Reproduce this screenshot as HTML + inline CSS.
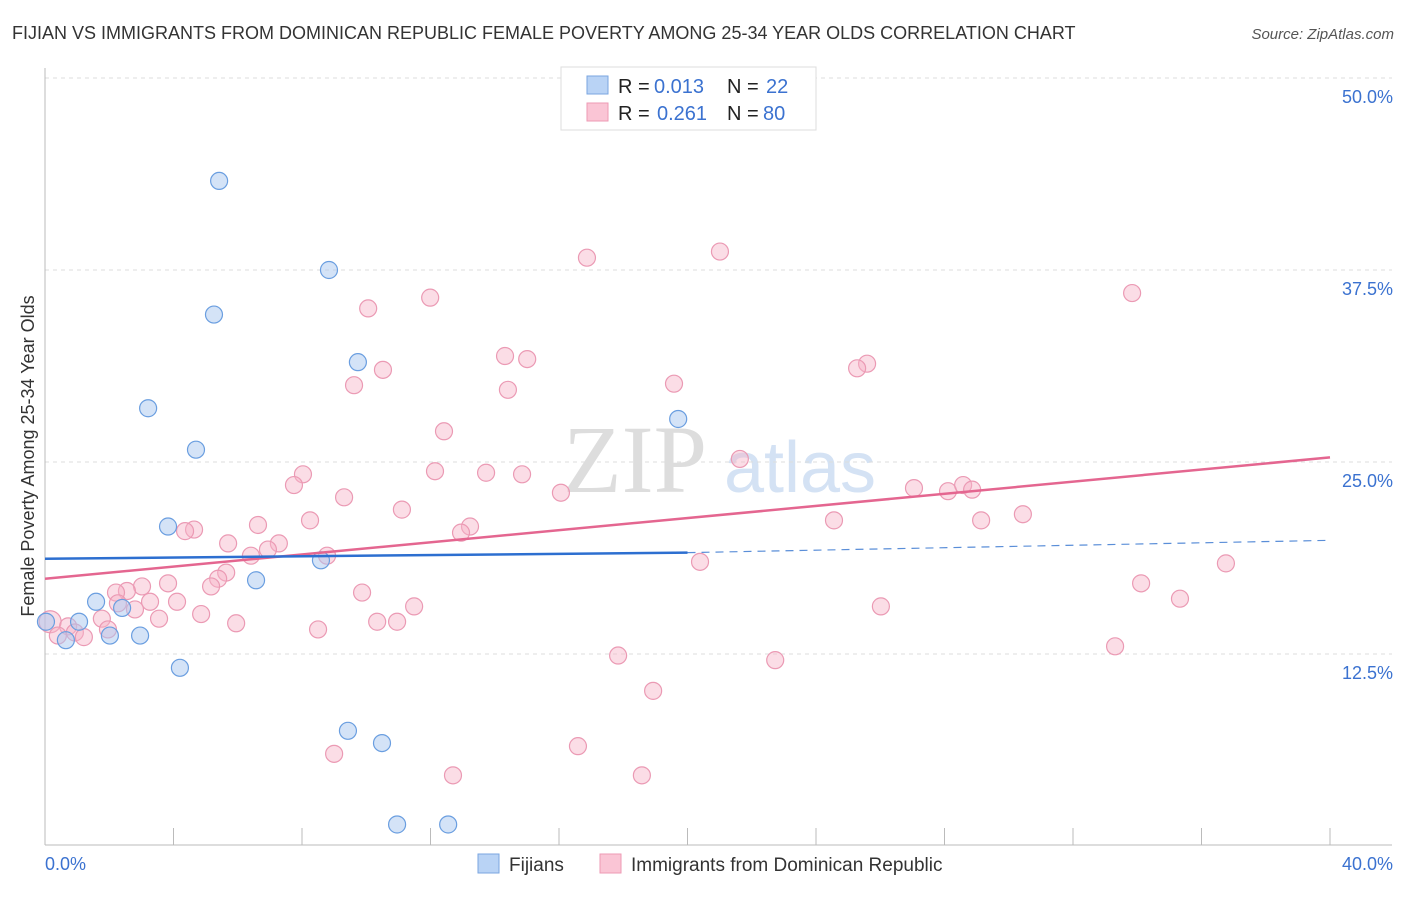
<!DOCTYPE html>
<html><head><meta charset="utf-8"><style>
body{margin:0;background:#fff;font-family:"Liberation Sans",sans-serif;}
</style></head><body>
<svg width="1406" height="892" xmlns="http://www.w3.org/2000/svg" id="svg">
<text x="12" y="39" font-size="18" fill="#333">FIJIAN VS IMMIGRANTS FROM DOMINICAN REPUBLIC FEMALE POVERTY AMONG 25-34 YEAR OLDS CORRELATION CHART</text>
<text x="1394" y="39" font-size="15" fill="#555" font-style="italic" text-anchor="end">Source: ZipAtlas.com</text>
<text x="635" y="492" font-size="96" fill="#ddd" font-family="Liberation Serif" text-anchor="middle">ZIP</text>
<text x="800" y="492" font-size="72" fill="#d4e2f4" text-anchor="middle">atlas</text>
<text transform="translate(34,456) rotate(-90)" font-size="18" fill="#333" text-anchor="middle">Female Poverty Among 25-34 Year Olds</text>
<g id="grid"></g><g id="pts"></g><g id="lines"></g>
<g>
<rect x="561" y="67" width="255" height="63" fill="#fff" stroke="#ddd"/>
<rect x="587" y="76" width="21" height="18" fill="#b9d3f5" stroke="#7aa6e0"/>
<rect x="587" y="103" width="21" height="18" fill="#fac5d5" stroke="#ee9ab4"/>
<text y="93" font-size="20" fill="#222"><tspan x="618">R =</tspan><tspan x="654" fill="#3b72d0">0.013</tspan><tspan x="727">N =</tspan><tspan x="766" fill="#3b72d0">22</tspan></text>
<text y="120" font-size="20" fill="#222"><tspan x="618">R =</tspan><tspan x="657" fill="#3b72d0">0.261</tspan><tspan x="727">N =</tspan><tspan x="763" fill="#3b72d0">80</tspan></text>
</g>
<g>
<rect x="478" y="854" width="21" height="19" fill="#b9d3f5" stroke="#7aa6e0"/>
<text x="509" y="871" font-size="19" fill="#333">Fijians</text>
<rect x="600" y="854" width="21" height="19" fill="#fac5d5" stroke="#ee9ab4"/>
<text x="631" y="871" font-size="19" fill="#333">Immigrants from Dominican Republic</text>
</g>
<text x="45" y="870" font-size="18" fill="#3b72d0">0.0%</text>
<text x="1393" y="870" font-size="18" fill="#3b72d0" text-anchor="end">40.0%</text>
</svg>
<script>
const yTicks=[50,37.5,25,12.5];
const xTicks=[0,4,8,12,16,20,24,28,32,36,40];
const blueX=[5.42,8.84,5.26,9.74,3.21,4.70,19.71,3.83,8.59,6.57,1.59,2.40,1.06,0.03,2.02,2.96,0.65,4.20,9.43,10.49,10.96,12.55];
const blueY=[43.3,37.5,34.6,31.5,28.5,25.8,27.8,20.8,18.6,17.3,15.9,15.5,14.6,14.6,13.7,13.7,13.4,11.6,7.5,6.7,1.4,1.4];
const pinkX=[21.01,16.87,33.84,11.99,10.06,14.32,15.01,25.59,25.28,10.52,19.58,9.62,14.41,12.42,21.63,8.03,12.14,13.73,14.85,7.75,16.06,27.05,28.11,28.58,28.86,9.31,11.11,30.44,8.25,24.56,29.14,6.63,4.64,4.36,13.23,12.95,5.70,7.28,6.94,6.41,8.78,20.39,36.76,5.64,5.39,3.83,34.12,3.02,5.17,2.55,2.21,9.87,35.33,3.27,4.11,2.27,11.49,26.02,2.80,4.86,1.77,3.55,10.34,10.96,5.95,0.16,0.72,1.96,0.93,8.50,0.40,1.21,33.31,17.84,22.73,18.93,9.00,16.59,12.70,18.58];
const pinkY=[38.7,38.3,36.0,35.7,35.0,31.9,31.7,31.4,31.1,31.0,30.1,30.0,29.7,27.0,25.2,24.2,24.4,24.3,24.2,23.5,23.0,23.3,23.1,23.5,23.2,22.7,21.9,21.6,21.2,21.2,21.2,20.9,20.6,20.5,20.8,20.4,19.7,19.7,19.3,18.9,18.9,18.5,18.4,17.8,17.4,17.1,17.1,16.9,16.9,16.6,16.5,16.5,16.1,15.9,15.9,15.8,15.6,15.6,15.4,15.1,14.8,14.8,14.6,14.6,14.5,14.6,14.3,14.1,13.9,14.1,13.7,13.6,13.0,12.4,12.1,10.1,6.0,6.5,4.6,4.6];
const blueLine=[18.7,19.1,19.9]; // at x=0, 20, 40
const pinkLine=[17.4,25.3]; // at x=0, 40
const X=v=>45+v/40*1285, Y=v=>846-v/12.5*192;
const NS="http://www.w3.org/2000/svg";
function mk(t,a,p){const e=document.createElementNS(NS,t);for(const k in a)e.setAttribute(k,a[k]);p.appendChild(e);return e;}
const grid=document.getElementById('grid');
yTicks.forEach(t=>{
 const l=mk('line',{x1:45,x2:1392,y1:Y(t),y2:Y(t),stroke:'#ddd','stroke-dasharray':'4,4'},grid);
 
 
 const s=mk('text',{x:1393,y:Y(t)+25,'font-size':18,fill:'#3b72d0','text-anchor':'end'},grid);
 s.textContent=t.toFixed(1)+'%';
 
 
});
mk('line',{x1:45,x2:45,y1:68,y2:845,stroke:'#bbb'},grid);
mk('line',{x1:45,x2:1392,y1:845,y2:845,stroke:'#bbb'},grid);
xTicks.forEach(t=>{
 const l=mk('line',{x1:X(t),x2:X(t),y1:828,y2:845,stroke:'#bbb'},grid);
 
 
});
const pts=document.getElementById('pts');
pinkX.forEach((x,i)=>{
 const c=mk('circle',{cx:X(x),cy:Y(pinkY[i]),r:(i===65?11:8.5),fill:'rgba(246,180,200,0.45)',stroke:'#eb9ab4','stroke-width':1.2},pts);
 
 
});
blueX.forEach((x,i)=>{
 const c=mk('circle',{cx:X(x),cy:Y(blueY[i]),r:8.5,fill:'rgba(170,200,240,0.5)',stroke:'#6a9ee0','stroke-width':1.2},pts);
 
 
});
const ln=document.getElementById('lines');
const pl=mk('line',{x1:X(0),y1:Y(pinkLine[0]),x2:X(40),y2:Y(pinkLine[1]),stroke:'#e46690','stroke-width':2.5},ln);


const bl=mk('line',{x1:X(0),y1:Y(blueLine[0]),x2:X(20),y2:Y(blueLine[1]),stroke:'#2d6fd0','stroke-width':2.5},ln);


const bd=mk('line',{x1:X(20),y1:Y(blueLine[1]),x2:X(40),y2:Y(blueLine[2]),stroke:'#5a8ed8','stroke-width':1.2,'stroke-dasharray':'8,6'},ln);


</script>
</body></html>
